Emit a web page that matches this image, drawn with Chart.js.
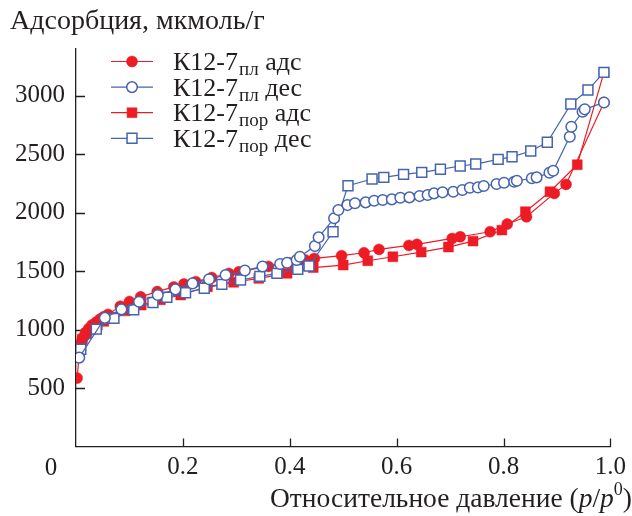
<!DOCTYPE html>
<html lang="ru">
<head>
<meta charset="UTF-8">
<title>Изотермы адсорбции К12-7</title>
<script src="https://cdn.jsdelivr.net/npm/chart.js"></script>
<style>
  html, body { margin: 0; padding: 0; background: #fff; }
  #wrap { position: relative; width: 632px; height: 516px; }
</style>
</head>
<body>
<div id="wrap"><canvas id="isoChart"></canvas></div>
<script>
// относительное давление p/p0 и адсорбция, мкмоль/г
const plAdsX = [0.002, 0.008, 0.012, 0.018, 0.024, 0.030, 0.038, 0.045, 0.052, 0.060, 0.083, 0.100, 0.121, 0.152, 0.183, 0.202, 0.224, 0.254, 0.286, 0.305, 0.360, 0.400, 0.429, 0.446, 0.497, 0.539, 0.567, 0.623, 0.638, 0.704, 0.719, 0.775, 0.807, 0.843, 0.895, 0.917, 0.988];
const plAdsY = [585, 880, 930, 975, 1010, 1040, 1065, 1090, 1110, 1130, 1200, 1240, 1280, 1325, 1365, 1390, 1410, 1445, 1480, 1495, 1540, 1570, 1595, 1609, 1632, 1657, 1686, 1720, 1729, 1780, 1794, 1837, 1903, 1965, 2165, 2242, 2943];

const plDesX = [0.006, 0.054, 0.085, 0.118, 0.153, 0.186, 0.218, 0.249, 0.280, 0.316, 0.349, 0.382, 0.395, 0.413, 0.419, 0.447, 0.454, 0.483, 0.491, 0.508, 0.522, 0.542, 0.558, 0.574, 0.591, 0.607, 0.624, 0.643, 0.658, 0.670, 0.686, 0.706, 0.723, 0.737, 0.752, 0.763, 0.787, 0.801, 0.820, 0.825, 0.853, 0.862, 0.886, 0.893, 0.924, 0.927, 0.948, 0.952, 0.988];
const plDesY = [760, 1100, 1173, 1238, 1296, 1344, 1395, 1430, 1467, 1505, 1540, 1561, 1572, 1595, 1623, 1715, 1789, 1952, 2023, 2065, 2080, 2088, 2102, 2108, 2114, 2128, 2131, 2142, 2151, 2165, 2174, 2179, 2194, 2213, 2216, 2228, 2245, 2256, 2265, 2273, 2294, 2302, 2342, 2359, 2649, 2735, 2863, 2884, 2943];

const porAdsX = [0.006, 0.012, 0.020, 0.030, 0.040, 0.052, 0.068, 0.092, 0.122, 0.158, 0.196, 0.246, 0.295, 0.342, 0.395, 0.444, 0.500, 0.546, 0.593, 0.646, 0.697, 0.743, 0.797, 0.841, 0.887, 0.938, 0.988];
const porAdsY = [850, 915, 965, 1005, 1040, 1070, 1105, 1160, 1210, 1255, 1296, 1367, 1405, 1438, 1481, 1530, 1552, 1589, 1623, 1663, 1706, 1757, 1851, 2008, 2179, 2410, 3200];

const porDesX = [0.009, 0.038, 0.071, 0.108, 0.144, 0.170, 0.205, 0.240, 0.273, 0.308, 0.344, 0.376, 0.415, 0.436, 0.481, 0.509, 0.554, 0.576, 0.613, 0.647, 0.682, 0.719, 0.748, 0.790, 0.816, 0.851, 0.882, 0.926, 0.958, 0.988];
const porDesY = [832, 1004, 1096, 1170, 1232, 1276, 1315, 1353, 1387, 1424, 1455, 1481, 1515, 1544, 1837, 2230, 2288, 2302, 2328, 2345, 2371, 2399, 2416, 2456, 2478, 2527, 2602, 2929, 3049, 3200];

const xTicks = [0.2, 0.4, 0.6, 0.8, 1.0];
const yTicks = [500, 1000, 1500, 2000, 2500, 3000];

// подписи легенды: основа, нижний индекс, хвост
const legendMain = ['К12-7', 'К12-7', 'К12-7', 'К12-7'];
const legendSub = ['пл', 'пл', 'пор', 'пор'];
const legendTail = ['адс', 'дес', 'адс', 'дес'];

const yTitle = 'Адсорбция, мкмоль/г';
const xTitleText = 'Относительное давление (';
const originLabel = '0';

const RED = '#ed1c24';
const BLUE = '#4563ae';
const INK = '#231f20';
const SERIF = '"Liberation Serif", "Times New Roman", serif';

function pts(xs, ys) {
  return xs.map((x, i) => ({ x: x, y: ys[i] }));
}

const styles = [
  { style: 'circle', r: 5.5, color: RED, fill: RED },
  { style: 'circle', r: 5.3, color: BLUE, fill: '#fff' },
  { style: 'rect', r: 7, color: RED, fill: RED },
  { style: 'rect', r: 7, color: BLUE, fill: '#fff' }
];

function makeSet(i, data, order) {
  const s = styles[i];
  return {
    label: legendMain[i] + legendSub[i] + ' ' + legendTail[i],
    data: data,
    order: order,
    borderColor: s.color,
    backgroundColor: s.fill,
    borderWidth: 1.2,
    pointStyle: s.style,
    pointRadius: s.r,
    pointHoverRadius: s.r,
    pointBackgroundColor: s.fill,
    pointBorderColor: s.color,
    pointBorderWidth: s.fill === '#fff' ? 1.5 : 0.5,
    tension: 0,
    fill: false
  };
}

// короткие засечки внутрь области графика
const innerTicks = {
  id: 'innerTicks',
  beforeDatasetsDraw(chart) {
    const ctx = chart.ctx;
    const xs = chart.scales.x, ys = chart.scales.y;
    const a = chart.chartArea;
    ctx.save();
    ctx.strokeStyle = INK;
    ctx.lineWidth = 1.3;
    ctx.beginPath();
    xTicks.forEach(v => {
      const px = Math.round(xs.getPixelForValue(v)) + 0.5;
      ctx.moveTo(px, a.bottom);
      ctx.lineTo(px, a.bottom - 8);
    });
    yTicks.forEach(v => {
      const py = Math.round(ys.getPixelForValue(v)) + 0.5;
      ctx.moveTo(a.left, py);
      ctx.lineTo(a.left + 9, py);
    });
    ctx.stroke();
    ctx.restore();
  }
};

// подписи осей, общий ноль и легенда с индексами
const annotations = {
  id: 'annotations',
  afterDraw(chart) {
    const ctx = chart.ctx;
    const a = chart.chartArea;
    ctx.save();
    ctx.fillStyle = INK;
    ctx.textBaseline = 'alphabetic';

    ctx.font = '28px ' + SERIF;
    ctx.textAlign = 'left';
    ctx.fillText(yTitle, 10, 29);

    ctx.font = '25px ' + SERIF;
    ctx.textAlign = 'center';
    ctx.fillText(originLabel, 51, a.bottom + 28);

    // Относительное давление (p/p0)
    const runs = [
      { t: xTitleText, f: '27.5px ' + SERIF, dy: 0 },
      { t: 'p', f: 'italic 27.5px ' + SERIF, dy: 0 },
      { t: '/', f: '27.5px ' + SERIF, dy: 0 },
      { t: 'p', f: 'italic 27.5px ' + SERIF, dy: 0 },
      { t: '0', f: '18px ' + SERIF, dy: -12 },
      { t: ')', f: '27.5px ' + SERIF, dy: 0 }
    ];
    let total = 0;
    runs.forEach(r => { ctx.font = r.f; r.w = ctx.measureText(r.t).width; total += r.w; });
    let x = 632 - total;
    ctx.textAlign = 'left';
    runs.forEach(r => { ctx.font = r.f; ctx.fillText(r.t, x, 507 + r.dy); x += r.w; });

    // легенда
    for (let i = 0; i < 4; i++) {
      const s = styles[i];
      const cy = 61.5 + i * 25.6;
      ctx.strokeStyle = s.color;
      ctx.lineWidth = 1.2;
      ctx.beginPath();
      ctx.moveTo(111, cy);
      ctx.lineTo(153, cy);
      ctx.stroke();
      ctx.fillStyle = s.fill;
      ctx.lineWidth = s.fill === '#fff' ? 1.5 : 0.5;
      ctx.beginPath();
      if (s.style === 'circle') {
        ctx.arc(132, cy, s.r, 0, Math.PI * 2);
      } else {
        const h = s.r * Math.SQRT1_2;
        ctx.rect(132 - h, cy - h, 2 * h, 2 * h);
      }
      ctx.fill();
      ctx.stroke();

      ctx.fillStyle = INK;
      let tx = 173;
      const base = cy + 8.5;
      ctx.font = '26px ' + SERIF;
      ctx.fillText(legendMain[i], tx, base);
      tx += ctx.measureText(legendMain[i]).width + 1;
      ctx.font = '19px ' + SERIF;
      ctx.fillText(legendSub[i], tx, base + 5);
      tx += ctx.measureText(legendSub[i]).width;
      ctx.font = '26px ' + SERIF;
      ctx.fillText(' ' + legendTail[i], tx, base);
    }
    ctx.restore();
  }
};

const ctx = document.getElementById('isoChart').getContext('2d');
new Chart(ctx, {
  type: 'line',
  data: {
    datasets: [
      makeSet(1, pts(plDesX, plDesY), 0),
      makeSet(3, pts(porDesX, porDesY), 1),
      makeSet(0, pts(plAdsX, plAdsY), 2),
      makeSet(2, pts(porAdsX, porAdsY), 3)
    ]
  },
  options: {
    responsive: true,
    maintainAspectRatio: false,
    animation: false,
    layout: { padding: { top: 49, right: 18, left: 0, bottom: 0 } },
    plugins: {
      legend: { display: false },
      tooltip: { enabled: false }
    },
    scales: {
      x: {
        type: 'linear',
        min: 0,
        max: 1,
        afterBuildTicks: scale => { scale.ticks = xTicks.map(v => ({ value: v })); },
        afterFit: scale => { scale.height = 69.5; },
        ticks: {
          color: INK,
          font: { family: SERIF, size: 25 },
          padding: 6,
          maxRotation: 0,
          callback: v => v.toFixed(1)
        },
        grid: { drawOnChartArea: false, drawTicks: false },
        border: { display: true, color: INK, width: 1.3 }
      },
      y: {
        type: 'linear',
        min: 0,
        max: 3400,
        afterBuildTicks: scale => { scale.ticks = yTicks.map(v => ({ value: v })); },
        afterFit: scale => { scale.width = 76; },
        ticks: {
          color: INK,
          font: { family: SERIF, size: 25 },
          padding: 11,
          callback: v => String(v)
        },
        grid: { drawOnChartArea: false, drawTicks: false },
        border: { display: true, color: INK, width: 1.3 }
      }
    }
  },
  plugins: [innerTicks, annotations]
});
</script>
</body>
</html>
